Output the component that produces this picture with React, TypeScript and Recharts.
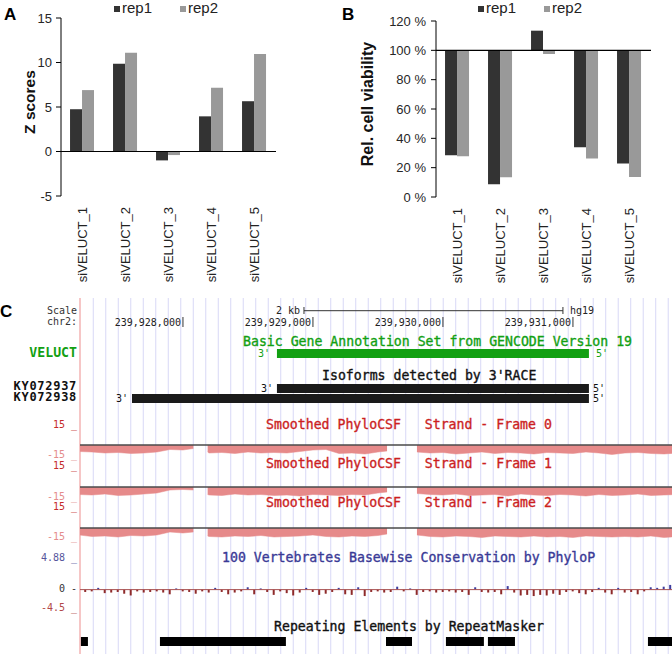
import React from "react";
import {
  BarChart,
  Bar,
  ComposedChart,
  Area,
  XAxis,
  YAxis,
  ReferenceLine,
  ReferenceArea,
  Legend,
  Label,
  Cell,
} from "recharts";

const SANS = "'Liberation Sans', Arial, sans-serif";
const MONO = "'DejaVu Sans Mono', monospace";
const DARK = "#333333";
const LIGHT = "#999999";
const NO_MARGIN = { top: 0, right: 0, bottom: 0, left: 0 };

// ---------- panels A and B: siRNA screen ----------
const sirnas = ["siVELUCT_1", "siVELUCT_2", "siVELUCT_3", "siVELUCT_4", "siVELUCT_5"];
const zRep1 = [4.75, 9.85, -1.0, 3.95, 5.65];
const zRep2 = [6.9, 11.1, -0.4, 7.15, 10.95];
const zTicks = [-5, 0, 5, 10, 15];
const viabRep1 = [28.4, 8.7, 113.4, 34.0, 22.8];
const viabRep2 = [27.7, 13.4, 97.5, 26.2, 13.6];
const viabTicks = [0, 20, 40, 60, 80, 100, 120];

// ---------- panel C: UCSC view, chr2 (hg19) ----------
const X_MIN = 239927208;
const X_MAX = 239931762;
const coordTicks = [239928000, 239929000, 239930000, 239931000];
const scaleBar = [239928931, 239930923]; // 2 kb
const guideStart = 239927310;
const guideStep = 96.15;
const geneSpans = [[239928723, 239931123]];
const ky072937 = [[239928723, 239931123]];
const ky072938 = [[239927608, 239931123]];
const repeatSpans = [
  [239927215, 239927269],
  [239927823, 239928792],
  [239929562, 239929762],
  [239930023, 239930315],
  [239930346, 239930554],
  [239931577, 239931800],
];

// smoothed PhyloCSF, null = no data
const csfPos = [
  239927200, 239927300, 239927400, 239927500, 239927600, 239927700, 239927800, 239927900, 239928000,
  239928080, 239928100, 239928190, 239928200, 239928300, 239928400, 239928500, 239928600, 239928700,
  239928800, 239928900, 239929000, 239929100, 239929200, 239929300, 239929400, 239929500, 239929570,
  239929600, 239929700, 239929800, 239929900, 239930000, 239930100, 239930200, 239930300, 239930400,
  239930500, 239930600, 239930700, 239930800, 239930900, 239931000, 239931100, 239931200, 239931300,
  239931400, 239931500, 239931600, 239931700, 239931800,
];
const frame0 = [
  -6.5, -7, -8, -7.5, -8.5, -8, -7, -4.5, -5, -3.5, null, -7, -8, -7.5, -8.5, -7, -8, -7.5, -8, -6.5,
  -5, -4.5, -8.5, -8, -9, -7, -6, null, null, -7, -8, -7.5, -9, -8, -7, -8.5, -7.5, -8, -9, -7.5, -8,
  -8.5, -7, -8, -9.5, -8, -7.5, -8.5, -9, -8,
];
const frame1 = [
  -7.5, -8, -7, -8.5, -8, -7, -6, -3, -2.5, -3, null, -7.5, -8, -8.5, -7, -8, -7.5, -8.5, -8, -9, -7.5,
  -8, -8.5, -7.5, -8, -6, -5, null, null, -6.5, -7.5, -8, -7, -8.5, -8, -7.5, -9, -7, -8, -8.5, -7.5,
  -8, -9, -7.5, -8.5, -8, -7, -8.5, -8, -7.5,
];
const frame2 = [
  -7, -8.5, -8, -9, -7.5, -8, -7, -4, -5, -4, null, -8, -8.5, -9, -8, -8.5, -7.5, -9, -8.5, -8, -7,
  -8.5, -9, -8, -8.5, -7.5, -6, null, null, -7, -8.5, -9, -8, -8.5, -9.5, -8, -8.5, -9, -8, -9, -8.5,
  -9.5, -8, -8.5, -9, -8.5, -9, -8, -9.5, -8.5,
];

// 100 vertebrates PhyloP, one value every 50 bp
const phyloStart = 239927250;
const phyloStep = 50;
const phyloP = [
  -0.4, -0.3, 0.3, -0.6, -0.5, -0.4, -0.7, -1.0, -0.3, -0.5, -0.4, -0.3, -0.5, -0.8, 0.2, -0.3, -0.4,
  -0.7, -0.3, -0.5, 0.3, -0.4, -0.8, -0.5, -0.3, 0.4, -0.8, 0.2, -0.4, -0.9, -0.3, -0.6, -1.0, -0.5,
  0.3, -0.4, -0.9, -0.7, -0.4, 0.3, -0.8, -0.9, 0.4, -1.1, -0.4, -0.3, -0.5, -0.4, 0.5, -0.3, 0.2,
  -0.9, -0.4, -0.3, -0.5, -0.4, -0.3, -0.5, -0.4, -0.9, 0.4, -0.4, -0.5, -0.4, -0.8, 0.6, -0.5, -1.0,
  -0.9, -1.1, -0.9, -1.0, -0.7, -0.9, -0.4, -0.3, -0.6, -0.8, -0.4, 0.3, -0.5, -0.8, 0.3, -0.5, -0.4,
  -0.8, -0.3, 0.4, 0.3, 0.5, 0.8,
];

const zData = sirnas.map((name, i) => ({ name, rep1: zRep1[i], rep2: zRep2[i] }));
const viabData = sirnas.map((name, i) => ({
  name,
  rep1: [100, viabRep1[i]],
  rep2: [100, viabRep2[i]],
}));
const csfData = csfPos.map((pos, i) => ({ pos, f0: frame0[i], f1: frame1[i], f2: frame2[i] }));
const phyloData = phyloP.map((v, i) => ({ pos: phyloStart + i * phyloStep, v }));
const guides = Array.from({ length: 47 }, (_, i) => guideStart + i * guideStep);
const anchors = [{ pos: X_MIN }, { pos: X_MAX }];

const fmtCoord = (n: number) => n.toLocaleString("en-US");

function Txt({
  x,
  y,
  text,
  color = "#000",
  size = 13.2,
  bold = false,
  anchor = "start",
  family = MONO,
  lh = 1,
  ls = 0,
  thick = false,
}: any) {
  const tx = anchor === "end" ? "-100%" : anchor === "middle" ? "-50%" : "0";
  return (
    <div
      style={{
        position: "absolute",
        left: x,
        top: y,
        transform: `translate(${tx}, -50%)`,
        whiteSpace: "pre",
        textAlign: anchor === "end" ? "right" : "left",
        fontFamily: family,
        fontSize: size,
        fontWeight: bold ? 700 : 400,
        letterSpacing: ls,
        color,
        lineHeight: lh,
        WebkitTextStroke: thick ? `0.35px ${color}` : undefined,
      }}
    >
      {text}
    </div>
  );
}

function RotTick({ x, y, payload }: any) {
  return (
    <text
      x={x}
      y={y}
      transform={`rotate(-90, ${x}, ${y})`}
      textAnchor="end"
      dy="0.36em"
      fontSize={13}
      fontFamily={SANS}
      fill="#222"
    >
      {payload.value}
    </text>
  );
}

function RepLegend() {
  const sq = { width: 6, height: 6, display: "inline-block", marginTop: 2 };
  return (
    <div
      style={{
        display: "flex",
        alignItems: "center",
        fontFamily: SANS,
        fontSize: 15,
        color: "#222",
        lineHeight: "15px",
        whiteSpace: "nowrap",
      }}
    >
      <span style={{ ...sq, background: DARK, marginRight: 2 }} />
      <span>rep1</span>
      <span style={{ ...sq, background: LIGHT, marginLeft: 28, marginRight: 2 }} />
      <span>rep2</span>
    </div>
  );
}

function axisTitle(text: string, dx: number, size: number) {
  return (
    <Label
      content={(p: any) => {
        const vb = p.viewBox;
        const x = vb.x + dx;
        const y = vb.y + vb.height / 2 - 5;
        return (
          <text
            x={x}
            y={y}
            transform={`rotate(-90, ${x}, ${y})`}
            textAnchor="middle"
            fontFamily={SANS}
            fontWeight={700}
            fontSize={size}
            fill="#111"
          >
            {text}
          </text>
        );
      }}
    />
  );
}

function PanelA() {
  return (
    <div style={{ position: "absolute", left: 0, top: 0 }}>
      <BarChart
        width={290}
        height={290}
        data={zData}
        margin={{ top: 18, right: 14, bottom: 0, left: 0 }}
        barCategoryGap="21%"
        barGap={0}
      >
        <XAxis
          dataKey="name"
          axisLine={false}
          tickLine={false}
          tickSize={0}
          tickMargin={11}
          height={94}
          interval={0}
          tick={<RotTick />}
        />
        <YAxis
          width={61}
          domain={[-5, 15]}
          ticks={zTicks}
          interval={0}
          tickSize={5}
          tickMargin={4}
          axisLine={{ stroke: "#000" }}
          tickLine={{ stroke: "#000" }}
          tick={{ fontSize: 13, fill: "#262626", fontFamily: SANS }}
          label={axisTitle("Z scores", 35, 15.5)}
        />
        <Legend
          content={<RepLegend />}
          layout="horizontal"
          verticalAlign="middle"
          wrapperStyle={{ top: 0, left: 114, width: 130 }}
        />
        <Bar dataKey="rep1" fill={DARK} isAnimationActive={false} />
        <Bar dataKey="rep2" fill={LIGHT} isAnimationActive={false} />
        <ReferenceLine y={0} stroke="#000" strokeWidth={1.2} />
      </BarChart>
    </div>
  );
}

function PanelB() {
  return (
    <div style={{ position: "absolute", left: 336, top: 0 }}>
      <BarChart
        width={330}
        height={290}
        data={viabData}
        margin={{ top: 21, right: 15, bottom: 0, left: 0 }}
        barCategoryGap="21%"
        barGap={0}
      >
        <XAxis
          dataKey="name"
          axisLine={false}
          tickLine={false}
          tickSize={0}
          tickMargin={11}
          height={93}
          interval={0}
          tick={<RotTick />}
        />
        <YAxis
          width={100}
          domain={[0, 120]}
          ticks={viabTicks}
          interval={0}
          tickSize={5}
          tickMargin={5}
          tickFormatter={(v: number) => `${v} %`}
          axisLine={{ stroke: "#000" }}
          tickLine={{ stroke: "#000" }}
          tick={{ fontSize: 13, fill: "#262626", fontFamily: SANS }}
          label={axisTitle("Rel. cell viability", 37, 16)}
        />
        <Legend
          content={<RepLegend />}
          layout="horizontal"
          verticalAlign="middle"
          wrapperStyle={{ top: 0, left: 142, width: 130 }}
        />
        <Bar dataKey="rep1" fill={DARK} isAnimationActive={false} />
        <Bar dataKey="rep2" fill={LIGHT} isAnimationActive={false} />
        <ReferenceLine y={100} stroke="#000" strokeWidth={1.2} />
      </BarChart>
    </div>
  );
}

// ---- genome browser tracks ----
const C_LEFT = 80;
const C_W = 592;

function EndMarks({ vb, color, gap }: any) {
  const cy = vb.y + vb.height / 2;
  return (
    <g fontFamily={MONO} fontSize={10} fill={color}>
      <text x={vb.x - gap} y={cy} dy="0.38em" textAnchor="end">
        3'
      </text>
      <text x={vb.x + vb.width + gap} y={cy} dy="0.38em" textAnchor="start">
        5'
      </text>
    </g>
  );
}

function FeatureRow({ top, spans, color, endColor, gap }: any) {
  return (
    <div style={{ position: "absolute", left: C_LEFT, top }}>
      <ComposedChart width={C_W} height={9} margin={NO_MARGIN} data={anchors}>
        <XAxis type="number" dataKey="pos" domain={[X_MIN, X_MAX]} hide allowDataOverflow />
        <YAxis type="number" domain={[0, 1]} hide allowDataOverflow />
        {spans.map(([s, e]: number[], i: number) => (
          <ReferenceArea
            key={i}
            x1={s}
            x2={e}
            y1={0}
            y2={1}
            fill={color}
            fillOpacity={1}
            stroke="none"
            ifOverflow="visible"
            label={
              endColor ? (
                <Label content={(p: any) => <EndMarks vb={p.viewBox} color={endColor} gap={gap} />} />
              ) : undefined
            }
          />
        ))}
      </ComposedChart>
    </div>
  );
}

function CsfTrack({ top, dataKey }: any) {
  return (
    <div style={{ position: "absolute", left: C_LEFT, top }}>
      <ComposedChart width={C_W} height={30} margin={NO_MARGIN} data={csfData}>
        <XAxis type="number" dataKey="pos" domain={[X_MIN, X_MAX]} hide allowDataOverflow />
        <YAxis type="number" domain={[-15, 15]} hide allowDataOverflow />
        <Area
          dataKey={dataKey}
          type="linear"
          baseValue={0}
          fill="#e68a8a"
          fillOpacity={1}
          stroke="#e68a8a"
          strokeWidth={0.5}
          connectNulls={false}
          dot={false}
          activeDot={false}
          isAnimationActive={false}
        />
        <ReferenceLine y={0} stroke="#4a4a4a" strokeWidth={1.6} />
      </ComposedChart>
    </div>
  );
}

function PanelC() {
  const top = 298;
  return (
    <>
      {/* guide lines */}
      <div style={{ position: "absolute", left: C_LEFT, top }}>
        <ComposedChart width={C_W} height={654 - top} margin={NO_MARGIN} data={anchors}>
          <XAxis type="number" dataKey="pos" domain={[X_MIN, X_MAX]} hide allowDataOverflow />
          <YAxis type="number" domain={[0, 1]} hide allowDataOverflow />
          {guides.map((g) => (
            <ReferenceLine key={g} x={g} stroke="#d8d8f6" strokeWidth={1} />
          ))}
          <ReferenceLine x={X_MIN} stroke="#f3b3b3" strokeWidth={1.5} ifOverflow="visible" />
        </ComposedChart>
      </div>

      {/* ruler */}
      <div style={{ position: "absolute", left: C_LEFT, top: 300 }}>
        <ComposedChart width={C_W} height={30} margin={NO_MARGIN} data={anchors}>
          <XAxis type="number" dataKey="pos" domain={[X_MIN, X_MAX]} hide allowDataOverflow />
          <YAxis type="number" domain={[0, 30]} reversed hide allowDataOverflow />
          <ReferenceLine
            segment={[
              { x: scaleBar[0], y: 10.7 },
              { x: scaleBar[1], y: 10.7 },
            ]}
            stroke="#333"
          />
          <ReferenceLine
            segment={[
              { x: scaleBar[0], y: 7 },
              { x: scaleBar[0], y: 14 },
            ]}
            stroke="#333"
            label={{ value: "2 kb", position: "left", offset: 4, fill: "#222", fontSize: 10, fontFamily: MONO }}
          />
          <ReferenceLine
            segment={[
              { x: scaleBar[1], y: 7 },
              { x: scaleBar[1], y: 14 },
            ]}
            stroke="#333"
            label={{ value: "hg19", position: "right", offset: 7, fill: "#222", fontSize: 10, fontFamily: MONO }}
          />
          {coordTicks.map((c) => (
            <ReferenceLine
              key={c}
              segment={[
                { x: c, y: 17 },
                { x: c, y: 27 },
              ]}
              stroke="#333"
              label={{ value: fmtCoord(c), position: "left", offset: 2, fill: "#222", fontSize: 10, fontFamily: MONO }}
            />
          ))}
        </ComposedChart>
      </div>
      <Txt x={77} y={310.7} text="Scale" size={10} color="#333" anchor="end" />
      <Txt x={77} y={322} text="chr2:" size={10} color="#333" anchor="end" />

      {/* GENCODE */}
      <Txt x={243} y={341.7} text="Basic Gene Annotation Set from GENCODE Version 19" color="#12a012" thick />
      <Txt x={77} y={352.7} text="VELUCT" color="#12a012" bold anchor="end" />
      <FeatureRow top={349} spans={geneSpans} color="#12a012" endColor="#12a012" gap={7} />

      {/* 3'RACE isoforms */}
      <Txt x={322} y={376} text="Isoforms detected by 3'RACE" color="#111" thick />
      <Txt
        x={77}
        y={391.7}
        text={"KY072937\nKY072938"}
        size={12}
        ls={0.7}
        lh="11.5px"
        color="#111"
        bold
        anchor="end"
      />
      <FeatureRow top={383.5} spans={ky072937} color="#1a1a1a" endColor="#111" gap={4} />
      <FeatureRow top={394} spans={ky072938} color="#1a1a1a" endColor="#111" gap={4} />

      {/* PhyloCSF frames */}
      <Txt x={77} y={425.3} text="15 _" size={10} color="#c52a2a" anchor="end" />
      <Txt x={266} y={425} text="Smoothed PhyloCSF   Strand - Frame 0" color="#cc1f1f" thick />
      <CsfTrack top={430} dataKey="f0" />
      <Txt x={77} y={455} text="-15 _" size={10} color="#e48c8c" anchor="end" />

      <Txt x={77} y={466} text="15 _" size={10} color="#c52a2a" anchor="end" />
      <Txt x={266} y={464.3} text="Smoothed PhyloCSF   Strand - Frame 1" color="#cc1f1f" thick />
      <CsfTrack top={471.7} dataKey="f1" />
      <Txt x={77} y={497.3} text="-15 _" size={10} color="#e48c8c" anchor="end" />

      <Txt x={77} y={507.3} text="15 _" size={10} color="#c52a2a" anchor="end" />
      <Txt x={266} y={503.3} text="Smoothed PhyloCSF   Strand - Frame 2" color="#cc1f1f" thick />
      <CsfTrack top={513.3} dataKey="f2" />
      <Txt x={77} y={537} text="-15 _" size={10} color="#e48c8c" anchor="end" />

      {/* PhyloP */}
      <Txt x={77} y={558.3} text="4.88 _" size={10} color="#55559c" anchor="end" />
      <Txt x={222} y={558} text="100 Vertebrates Basewise Conservation by PhyloP" color="#3a3a96" thick />
      <Txt x={77} y={588.5} text="0 -" size={10} color="#333" anchor="end" />
      <Txt x={77} y={608.3} text="-4.5 _" size={10} color="#b24848" anchor="end" />
      <div style={{ position: "absolute", left: C_LEFT, top: 561 }}>
        <ComposedChart width={C_W} height={55} margin={NO_MARGIN} data={phyloData}>
          <XAxis type="number" dataKey="pos" domain={[X_MIN, X_MAX]} hide allowDataOverflow />
          <YAxis type="number" domain={[-4.5, 4.88]} hide allowDataOverflow />
          <ReferenceLine y={0} stroke="#a85050" strokeWidth={1} />
          <Bar dataKey="v" barSize={2} isAnimationActive={false}>
            {phyloData.map((d, i) => (
              <Cell key={i} fill={d.v >= 0 ? "#3d3d9e" : "#8e2a2a"} />
            ))}
          </Bar>
        </ComposedChart>
      </div>

      {/* RepeatMasker */}
      <Txt x={274} y={626.7} text="Repeating Elements by RepeatMasker" color="#111" thick />
      <FeatureRow top={637} spans={repeatSpans} color="#000" />
    </>
  );
}

export default function App() {
  return (
    <div style={{ position: "relative", width: 672, height: 654, background: "#fff", overflow: "hidden" }}>
      <style>{"body{margin:0;} .recharts-surface{overflow:visible;}"}</style>
      <PanelA />
      <PanelB />
      <PanelC />
      <Txt x={4} y={14} text="A" family={SANS} size={17} bold color="#000" />
      <Txt x={342} y={14} text="B" family={SANS} size={17} bold color="#000" />
      <Txt x={0} y={311} text="C" family={SANS} size={17} bold color="#000" />
    </div>
  );
}
